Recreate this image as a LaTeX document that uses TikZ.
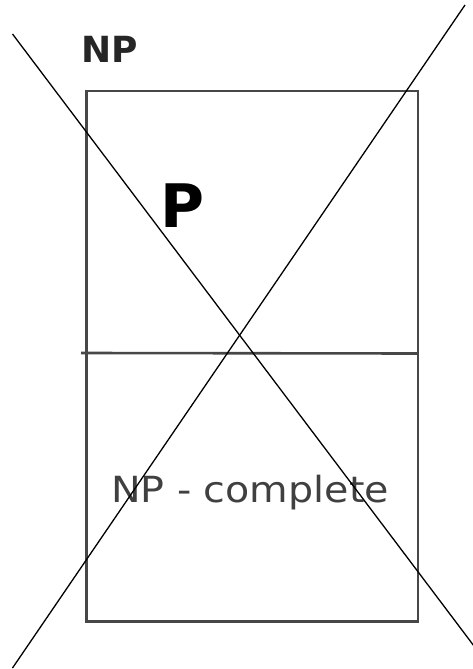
\documentclass[tikz,border=0pt]{standalone}
\usepackage{fontspec}
\setmainfont{DejaVu Sans}
\begin{document}
\begin{tikzpicture}[x=1pt,y=-1pt,
  frame/.style={draw=black!72, line width=2.6pt},
  cross/.style={draw=black, line width=1.3pt},
  lbl/.style={inner sep=0pt, anchor=base}]
\useasboundingbox (0,0) rectangle (472,669);
% outer box and divider
\coordinate (tl) at (86.5,91);
\coordinate (br) at (418,621.5);
\draw[frame] (tl) rectangle (br);
\coordinate (dl) at (81,353);
\coordinate (dr) at (418,353.5);
\draw[frame] (dl) -- (dr);
% labels
\node[lbl, text=black!85] (np) at (110,63) {\fontsize{36}{40}\selectfont\bfseries NP};
\node[lbl, text=black] (p) at (182,227) {\fontsize{60}{66}\selectfont\bfseries P};
\node[lbl, text=black!75, xscale=1.1] (npc) at (250,502) {\fontsize{36}{40}\selectfont NP - complete};
% crossing lines
\coordinate (a1) at (12.5,34);
\coordinate (a2) at (474,646);
\coordinate (b1) at (465,5);
\coordinate (b2) at (12.5,668);
\draw[cross] (a1) -- (a2);
\draw[cross] (b1) -- (b2);
\end{tikzpicture}
\end{document}
